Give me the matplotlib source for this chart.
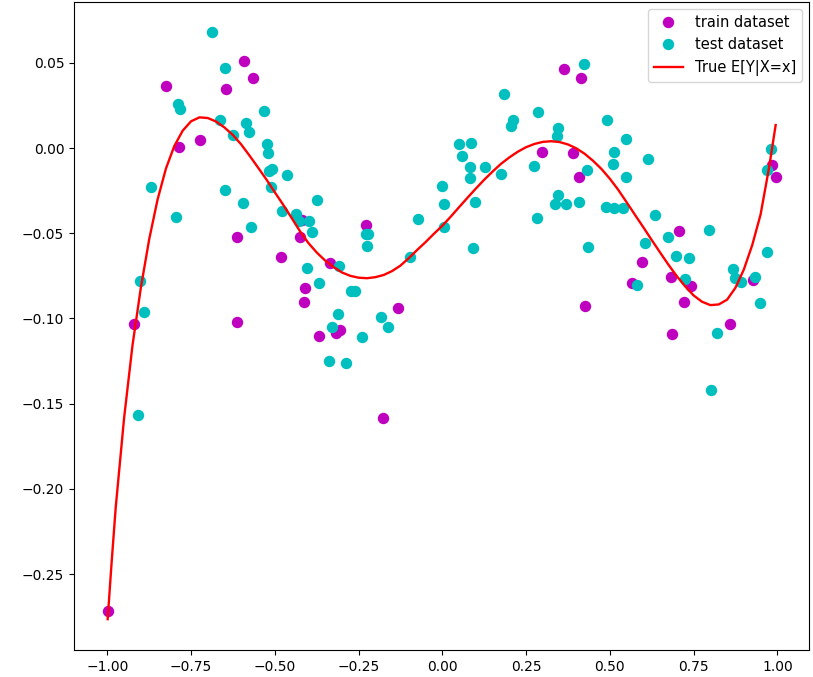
import matplotlib
matplotlib.use("Agg")
import matplotlib.pyplot as plt

# training points (magenta)
train_x = [-0.591, -0.564, -0.826, -0.646, -0.7245, -0.787, -0.418, -0.425, -0.614, -0.482,
           -0.3355, -0.410, -0.414, -0.9215, -0.614, -0.367, -0.3057, -0.3176, -0.229, -0.1316,
           -0.177, -0.999, 0.363, 0.4147, 0.2973, 0.3908, 0.4068, 0.5949, 0.567, 0.4257,
           0.7054, 0.6815, 0.742, 0.928, 0.7212, 0.8594, 0.6863, 0.983, 0.9958]
train_y = [0.0509, 0.0409, 0.0364, 0.0346, 0.0047, 0.0008, -0.0423, -0.0521, -0.0524, -0.0641,
           -0.0677, -0.0823, -0.0904, -0.1033, -0.1019, -0.1101, -0.1068, -0.1084, -0.0452, -0.0941,
           -0.1583, -0.2720, 0.0464, 0.0409, -0.0024, -0.0031, -0.0168, -0.0669, -0.0794, -0.0925,
           -0.0485, -0.0755, -0.0810, -0.0775, -0.0902, -0.1033, -0.1094, -0.0100, -0.0168]

# test points (cyan)
test_x = [-0.689, -0.650, -0.788, -0.783, -0.533, -0.664, -0.587, -0.578, -0.626, -0.5236,
          -0.5197, -0.5176, -0.5087, -0.4648, -0.871, -0.511, -0.650, -0.375, -0.595, -0.478,
          -0.438, -0.795, -0.429, -0.398, -0.390, -0.571, -0.403, -0.367, -0.902, -0.890,
          -0.329, -0.3385, -0.9097, -0.229, -0.221, -0.225, 0.0576, 0.0815, 0.128, 0.0815,
          0.175, 0.273, -0.0012, 0.0057, 0.0964, 0.2815, -0.0728, 0.0057, 0.0922, -0.0967,
          -0.3078, -0.274, -0.261, -0.3107, -0.1833, -0.1615, -0.241, -0.2878, 0.4227, 0.1839,
          0.2854, 0.2117, 0.2039, 0.4904, 0.344, 0.341, 0.549, 0.0505, 0.0854, 0.513,
          0.510, 0.6146, 0.4307, 0.549, 0.344, 0.336, 0.368, 0.4068, 0.4884, 0.512,
          0.540, 0.6346, 0.4355, 0.6048, 0.580, 0.7967, 0.6744, 0.6973, 0.737, 0.970,
          0.8665, 0.8734, 0.8913, 0.725, 0.933, 0.949, 0.8188, 0.801, 0.981, 0.968]
test_y = [0.0679, 0.0471, 0.0258, 0.0231, 0.0217, 0.0164, 0.0149, 0.0092, 0.0078, 0.0023,
          -0.0031, -0.0133, -0.0121, -0.0160, -0.0229, -0.0229, -0.0246, -0.0307, -0.0323, -0.0370,
          -0.0387, -0.0407, -0.0428, -0.0430, -0.0493, -0.0462, -0.0702, -0.0794, -0.0781, -0.0964,
          -0.1049, -0.1250, -0.1567, -0.0507, -0.0503, -0.0573, -0.0047, -0.0113, -0.0113, -0.0178,
          -0.0153, -0.0106, -0.0223, -0.0331, -0.0317, -0.0409, -0.0417, -0.0466, -0.0585, -0.0638,
          -0.0692, -0.0839, -0.0839, -0.0972, -0.0994, -0.1049, -0.1111, -0.1264, 0.0493, 0.0317,
          0.0209, 0.0164, 0.0131, 0.0162, 0.0117, 0.0070, 0.0055, 0.0023, 0.0031, -0.0022,
          -0.0092, -0.0066, -0.0129, -0.0168, -0.0276, -0.0331, -0.0331, -0.0315, -0.0346, -0.0352,
          -0.0352, -0.0393, -0.0579, -0.0559, -0.0804, -0.0479, -0.0524, -0.0632, -0.0647, -0.0608,
          -0.0710, -0.0763, -0.0788, -0.0769, -0.0755, -0.0910, -0.1088, -0.1420, -0.0008, -0.0129]

# true conditional mean curve
curve_x = [-0.999, -0.9875, -0.975, -0.950, -0.925, -0.900, -0.875, -0.850, -0.825, -0.800,
           -0.775, -0.750, -0.725, -0.700, -0.675, -0.650, -0.625, -0.600, -0.575, -0.550,
           -0.525, -0.500, -0.475, -0.450, -0.425, -0.400, -0.375, -0.350, -0.325, -0.300,
           -0.275, -0.250, -0.225, -0.200, -0.175, -0.150, -0.125, -0.100, -0.075, -0.050,
           -0.025, 0.000, 0.025, 0.050, 0.075, 0.100, 0.125, 0.150, 0.175, 0.200,
           0.225, 0.250, 0.275, 0.300, 0.325, 0.350, 0.375, 0.400, 0.425, 0.450,
           0.475, 0.500, 0.525, 0.550, 0.575, 0.600, 0.625, 0.650, 0.675, 0.700,
           0.725, 0.750, 0.775, 0.800, 0.825, 0.850, 0.875, 0.900, 0.925, 0.950,
           0.975, 0.995]
curve_y = [-0.2765, -0.2440, -0.2110, -0.1585, -0.1160, -0.0820, -0.0535, -0.0302, -0.0120, 0.0012,
           0.0102, 0.0157, 0.0180, 0.0176, 0.0155, 0.0120, 0.0076, 0.0020, -0.0046, -0.0115,
           -0.0185, -0.0260, -0.0333, -0.0410, -0.0488, -0.0557, -0.0613, -0.0660, -0.0698, -0.0730,
           -0.0750, -0.0761, -0.0764, -0.0758, -0.0745, -0.0722, -0.0690, -0.0646, -0.0598, -0.0552,
           -0.0503, -0.0456, -0.0403, -0.0347, -0.0292, -0.0238, -0.0186, -0.0138, -0.0093, -0.0055,
           -0.0022, 0.0005, 0.0024, 0.0036, 0.0040, 0.0035, 0.0021, -0.0002, -0.0034, -0.0075,
           -0.0123, -0.0180, -0.0245, -0.0318, -0.0392, -0.0465, -0.0540, -0.0613, -0.0685, -0.0752,
           -0.0812, -0.0865, -0.0902, -0.0922, -0.0918, -0.0890, -0.0820, -0.0713, -0.0570, -0.0390,
           -0.0118, 0.0135]

fig = plt.figure(figsize=(8.13, 6.77), dpi=100)
ax = fig.add_axes([74 / 813, 27 / 677, 735 / 813, 648 / 677])

ax.plot(train_x, train_y, 'o', color='m', markersize=7.2, label='train dataset')
ax.plot(test_x, test_y, 'o', color='c', markersize=7.2, label='test dataset')
ax.plot(curve_x, curve_y, '-', color='r', linewidth=1.7, label='True E[Y|X=x]')

ax.set_xlim(-1.0995, 1.0945)
ax.set_ylim(-0.2946, 0.0857)
ax.set_xticks([-1.0, -0.75, -0.5, -0.25, 0.0, 0.25, 0.5, 0.75, 1.0])
ax.set_xticklabels(['\u22121.00', '\u22120.75', '\u22120.50', '\u22120.25', '0.00', '0.25', '0.50', '0.75', '1.00'])
ax.set_yticks([-0.25, -0.2, -0.15, -0.1, -0.05, 0.0, 0.05])
ax.set_yticklabels(['\u22120.25', '\u22120.20', '\u22120.15', '\u22120.10', '\u22120.05', '0.00', '0.05'])
ax.tick_params(labelsize=10)

ax.legend(loc='upper right', fontsize=10.5)

fig.savefig('out.png', dpi=100)
